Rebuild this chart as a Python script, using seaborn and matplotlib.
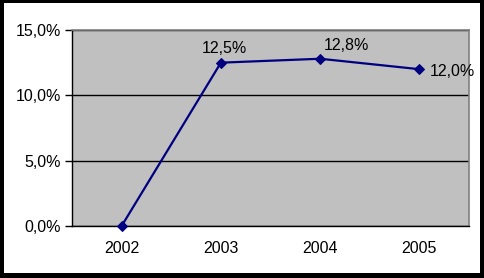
import matplotlib
matplotlib.use("Agg")
import matplotlib.pyplot as plt
import seaborn as sns
import pandas as pd
from matplotlib.patches import Rectangle
from matplotlib.ticker import FixedLocator, FuncFormatter

years = ["2002", "2003", "2004", "2005"]
values = [0.0, 12.5, 12.8, 12.0]
labels = ["", "12,5%", "12,8%", "12,0%"]
yticks = [0, 5, 10, 15]

sns.set_style("white")
plt.rcParams["font.family"] = ["Liberation Sans", "DejaVu Sans"]

W, H = 485, 278
FS = 11.5
fig = plt.figure(figsize=(W / 100, H / 100), dpi=100)
fig.patch.set_facecolor("black")
fig.patches.append(Rectangle((4 / W, 5 / H), (480 - 4) / W, (275 - 5) / H,
                             transform=fig.transFigure, facecolor="white",
                             edgecolor="none", zorder=-10))

ax = fig.add_axes([72 / W, (H - 226) / H, (469 - 72) / W, (226 - 30) / H])
ax.set_facecolor("#C0C0C0")

df = pd.DataFrame({"year": years, "value": values})
sns.lineplot(data=df, x="year", y="value", ax=ax, color="#000080",
             linewidth=1.6, marker="D", markersize=5.5,
             markeredgecolor="#000080", sort=False, zorder=5)
for ln in ax.lines:
    ln.set_clip_on(False)

ax.set_xlim(-0.5, 3.5)
ax.set_ylim(0, 15)
ax.set_yticks(yticks)
ax.yaxis.set_major_formatter(FuncFormatter(lambda v, p: f"{v:.1f}%".replace(".", ",")))
ax.grid(axis="y", color="black", linewidth=1)
ax.set_axisbelow(True)

ax.set_xticks(range(len(years)))
ax.set_xticklabels(years)
ax.xaxis.set_minor_locator(FixedLocator([-0.5, 0.5, 1.5, 2.5, 3.5]))
ax.tick_params(axis="x", which="major", length=0, pad=11, labelsize=FS, colors="black")
ax.tick_params(axis="x", which="minor", length=5, width=1, color="black", direction="out")
ax.tick_params(axis="y", length=5, width=1, color="black", direction="out", pad=3,
               labelsize=FS, labelcolor="black", left=True)
ax.set_xlabel("")
ax.set_ylabel("")

for s in ["left", "bottom"]:
    ax.spines[s].set_color("black")
    ax.spines[s].set_linewidth(1)
for s in ["top", "right"]:
    ax.spines[s].set_color("#808080")
    ax.spines[s].set_linewidth(1.2)

px = 0.72
offsets = [None, (3.3, 10, "center", "baseline"), (4, 9, "left", "baseline"),
           (10.5, -2.4, "left", "center")]
for i, (lab, off) in enumerate(zip(labels, offsets)):
    if not lab:
        continue
    dx, dy, ha, va = off
    ax.annotate(lab, (i, values[i]), xytext=(dx * px, dy * px),
                textcoords="offset points", ha=ha, va=va, fontsize=FS,
                color="black", zorder=6)

fig.savefig("out.png", dpi=100, facecolor=fig.get_facecolor())
